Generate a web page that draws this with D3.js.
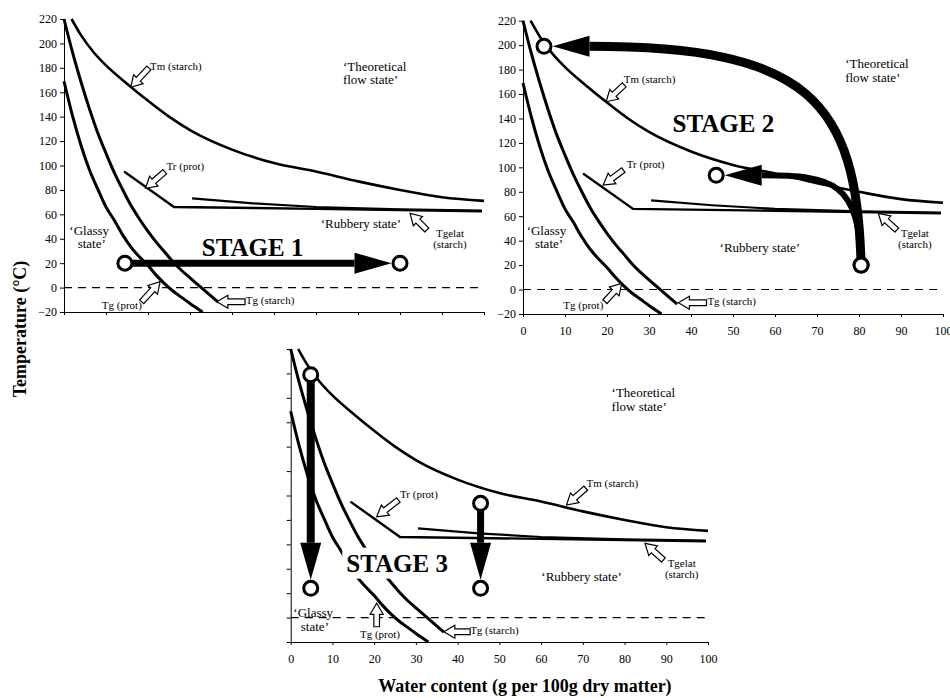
<!DOCTYPE html>
<html>
<head>
<meta charset="utf-8">
<script src="https://cdn.jsdelivr.net/npm/d3@7"></script>
<style>
body { margin: 0; background: #fff; }
svg { display: block; font-family: 'Liberation Serif', 'Times New Roman', serif; }
.axis path, .axis line { stroke: #000; stroke-width: 1; }
.axis text { font-size: 12px; fill: #000; font-family: 'Liberation Serif', serif; }
.small { font-size: 11px; }
.region { font-size: 13px; }
.stage { font-size: 25px; font-weight: bold; }
.title { font-size: 18px; font-weight: bold; }
</style>
</head>
<body>
<svg id="drawing_region" width="950" height="698"></svg>
<script>
// curves as [water content, temperature]
const tmStarch = [[1.8,220],[4,207],[7,193],[10,182],[15,167],[20,153],[25,140],[30,129],[40,113],[50,102],[60,95],[70,87],[80,80],[90,74],[100,71]];
const tgStarch = [[0,220],[2,193],[4,169],[6,147],[8,127],[10,110],[12,94],[14,80],[16,67],[18,56],[20,46],[22,37],[24,29],[26,21],[28,14],[30,8],[32,2],[34,-4],[36.7,-12]];
const tgProt = [[0,169],[2,141],[4,117],[6,97],[8,81],[10,66],[12,55],[14,43],[16,33],[18,25],[20,18],[22,10],[24,3],[26,-3],[28,-8],[30,-13],[33,-20]];
const trProt = [[14.3,95],[26.2,66],[60,64.5],[99.5,62.5]];
const tgelatStarch = [[30.5,73],[45,69],[60,66],[80,64],[99.5,63]];
const zeroLine = [[0,0],[100,0]];

const xTicks = [0,10,20,30,40,50,60,70,80,90,100];
const yTicks = [-20,0,20,40,60,80,100,120,140,160,180,200,220];

// text labels per panel (data coords of baseline)
const labels1 = [
  {t:'Tm (starch)', x:20.5, y:178.2, a:'start', c:'small'},
  {t:'Tr (prot)', x:24.4, y:96.3, a:'start', c:'small'},
  {t:'Tgelat', x:91.9, y:41.4, a:'middle', c:'small'},
  {t:'(starch)', x:91.9, y:32.4, a:'middle', c:'small'},
  {t:'‘Rubbery state’', x:70.7, y:48.5, a:'middle', c:'region'},
  {t:'‘Theoretical', x:66.4, y:177.4, a:'start', c:'region'},
  {t:'flow state’', x:66.4, y:166.5, a:'start', c:'region'},
  {t:'‘Glassy', x:6, y:43.1, a:'middle', c:'region'},
  {t:'state’', x:6.6, y:32.2, a:'middle', c:'region'},
  {t:'Tg (prot)', x:9.0, y:-17.8, a:'start', c:'small'},
  {t:'Tg (starch)', x:43.3, y:-13.5, a:'start', c:'small'},
  {t:'STAGE 1', x:44.9, y:25.8, a:'middle', c:'stage'}
];
const labels2 = [
  {t:'Tm (starch)', x:24.0, y:168.8, a:'start', c:'small'},
  {t:'Tr (prot)', x:24.7, y:99.2, a:'start', c:'small'},
  {t:'Tgelat', x:93.3, y:42.8, a:'middle', c:'small'},
  {t:'(starch)', x:93.3, y:33.8, a:'middle', c:'small'},
  {t:'‘Rubbery state’', x:56.4, y:31, a:'middle', c:'region'},
  {t:'‘Theoretical', x:76.7, y:181, a:'start', c:'region'},
  {t:'flow state’', x:76.7, y:170.1, a:'start', c:'region'},
  {t:'‘Glassy', x:5.6, y:44.6, a:'middle', c:'region'},
  {t:'state’', x:6.2, y:33.8, a:'middle', c:'region'},
  {t:'Tg (prot)', x:9.6, y:-16.2, a:'start', c:'small'},
  {t:'Tg (starch)', x:43.9, y:-12.7, a:'start', c:'small'},
  {t:'STAGE 2', x:47.7, y:129.2, a:'middle', c:'stage'}
];
const labels3 = [
  {t:'Tm (starch)', x:70.9, y:107.2, a:'start', c:'small'},
  {t:'Tr (prot)', x:26.2, y:97.7, a:'start', c:'small'},
  {t:'Tgelat', x:93.7, y:41.2, a:'middle', c:'small'},
  {t:'(starch)', x:93.7, y:32.2, a:'middle', c:'small'},
  {t:'‘Rubbery state’', x:69.7, y:30.2, a:'middle', c:'region'},
  {t:'‘Theoretical', x:76.9, y:180.9, a:'start', c:'region'},
  {t:'flow state’', x:76.9, y:169.2, a:'start', c:'region'},
  {t:'‘Glassy', x:5.4, y:0.6, a:'middle', c:'region'},
  {t:'state’', x:5.8, y:-10.6, a:'middle', c:'region'},
  {t:'Tg (prot)', x:16.6, y:-17, a:'start', c:'small'},
  {t:'Tg (starch)', x:43, y:-13.5, a:'start', c:'small'},
  {t:'STAGE 3', x:25.5, y:37.6, a:'middle', c:'stage', mask:true}
];

// hollow pointer arrows
const pointers1 = [
  {tip:[15.9,164.1], tail:[20.2,179.9]},
  {tip:[19.4,81.3], tail:[24.0,94.9]},
  {tip:[82.4,60.8], tail:[86.4,47.2]},
  {tip:[22.9,4.8], tail:[18.5,-11.6]},
  {tip:[36.4,-11.6], tail:[43.1,-11.6]}
];
const pointers2 = [
  {tip:[19.8,153.7], tail:[24.1,167.5]},
  {tip:[19.1,85.5], tail:[23.9,97.8]},
  {tip:[84.6,62.4], tail:[89,48.7]},
  {tip:[23.5,5.1], tail:[19.5,-9.9]},
  {tip:[37,-10.8], tail:[43.7,-10.8]}
];
const pointers3 = [
  {tip:[66.1,92.2], tail:[70.7,106]},
  {tip:[20.6,82.6], tail:[25.8,96.3]},
  {tip:[84.9,60.8], tail:[89.3,47.2]},
  {tip:[20.6,11.7], tail:[20.6,-7.5]},
  {tip:[36.7,-11.6], tail:[43,-11.6]}
];

// process arrows (start, bezier controls, end circle)
const stage1Arrows = [
  {from:[14.5,20], c1:[14.5,20], c2:[14.5,20], to:[80,20]}
];
const stage2Arrows = [
  {from:[80.5,20], c1:[79.5,155], c2:[68,199], to:[5,199]},
  {from:[80.5,20], c1:[80,88], c2:[74,93.5], to:[46,93.5]}
];
const stage3Arrows = [
  {from:[4.8,199], c1:[4.8,199], c2:[4.8,199], to:[4.8,24]},
  {from:[45.5,93.6], c1:[45.5,93.6], c2:[45.5,93.6], to:[45.5,24]}
];

const panels = [
  {px:[64,484], py:[312,19], xLab:false, yLab:true, labels:labels1, pointers:pointers1, arrows:stage1Arrows, widths:[7]},
  {px:[523,943], py:[314,20.7], xLab:true, yLab:true, labels:labels2, pointers:pointers2, arrows:stage2Arrows, widths:[9,6]},
  {px:[290.7,708], py:[642,349], xLab:true, yLab:false, labels:labels3, pointers:pointers3, arrows:stage3Arrows, widths:[8,7]}
];

const svg = d3.select('#drawing_region');
const R = 7, headLen = 37, headHalf = 10.5;

function hollowArrow(g, tail, tip) {
  const dx = tip[0]-tail[0], dy = tip[1]-tail[1], L = Math.hypot(dx, dy);
  const ux = dx/L, uy = dy/L, nx = -uy, ny = ux;
  const hl = 11, hw = 6.5, sw = 2.8;
  const p = (a, b) => [tail[0]+ux*a+nx*b, tail[1]+uy*a+ny*b];
  const pts = [p(0,-sw), p(L-hl,-sw), p(L-hl,-hw), p(L,0), p(L-hl,hw), p(L-hl,sw), p(0,sw)];
  g.append('polygon')
    .attr('points', pts.map(q => q.join(',')).join(' '))
    .attr('fill', '#fff').attr('stroke', '#000').attr('stroke-width', 1.2);
}

function stageArrow(g, x, y, a, w) {
  const P = [a.from, a.c1, a.c2, a.to].map(d => [x(d[0]), y(d[1])]);
  const dx = P[3][0]-P[2][0], dy = P[3][1]-P[2][1], L = Math.hypot(dx, dy);
  const ux = dx/L, uy = dy/L;
  const tip = [P[3][0]-ux*(R+1.5), P[3][1]-uy*(R+1.5)];
  const base = [tip[0]-ux*headLen, tip[1]-uy*headLen];
  const path = d3.path();
  path.moveTo(P[0][0], P[0][1]);
  path.bezierCurveTo(P[1][0], P[1][1], P[2][0], P[2][1], base[0], base[1]);
  g.append('path').attr('d', path.toString())
    .attr('fill', 'none').attr('stroke', '#000').attr('stroke-width', w);
  g.append('polygon')
    .attr('points', [tip, [base[0]-uy*headHalf, base[1]+ux*headHalf], [base[0]+uy*headHalf, base[1]-ux*headHalf]].map(q => q.join(',')).join(' '))
    .attr('fill', '#000');
}

panels.forEach(p => {
  const x = d3.scaleLinear().domain([0, 100]).range(p.px);
  const y = d3.scaleLinear().domain([-20, 220]).range(p.py);
  const g = svg.append('g');

  const xAxis = d3.axisBottom(x).tickValues(xTicks).tickSize(3).tickPadding(9).tickSizeOuter(0);
  if (!p.xLab) xAxis.tickFormat('');
  const yAxis = d3.axisLeft(y).tickValues(yTicks).tickSize(4).tickPadding(3).tickSizeOuter(0);
  if (!p.yLab) yAxis.tickFormat('');

  g.append('g').attr('class', 'axis').attr('transform', `translate(0,${y(-20)})`).call(xAxis);
  g.append('g').attr('class', 'axis').attr('transform', `translate(${x(0)},0)`).call(yAxis);

  const line = d3.line().x(d => x(d[0])).y(d => y(d[1]));
  const smooth = d3.line().x(d => x(d[0])).y(d => y(d[1])).curve(d3.curveMonotoneX);

  g.append('path').attr('d', line(zeroLine))
    .attr('stroke', '#000').attr('stroke-width', 1.1).attr('stroke-dasharray', '8,6').attr('fill', 'none');

  [[tmStarch, 2.6], [tgStarch, 3], [tgProt, 3]].forEach(([d, w]) => {
    g.append('path').attr('d', smooth(d)).attr('fill', 'none').attr('stroke', '#000').attr('stroke-width', w);
  });
  [[trProt, 2.4], [tgelatStarch, 2.2]].forEach(([d, w]) => {
    g.append('path').attr('d', line(d)).attr('fill', 'none').attr('stroke', '#000').attr('stroke-width', w);
  });

  p.pointers.forEach(d => hollowArrow(g, [x(d.tail[0]), y(d.tail[1])], [x(d.tip[0]), y(d.tip[1])]));

  p.arrows.forEach((a, i) => stageArrow(g, x, y, a, p.widths[i]));

  p.arrows.forEach(a => {
    [a.from, a.to].forEach(c => {
      g.append('circle').attr('cx', x(c[0])).attr('cy', y(c[1])).attr('r', R)
        .attr('fill', '#fff').attr('stroke', '#000').attr('stroke-width', 3);
    });
  });

  p.labels.forEach(d => {
    const t = g.append('text')
      .attr('class', d.c)
      .attr('x', x(d.x)).attr('y', y(d.y))
      .attr('text-anchor', d.a)
      .text(d.t);
    if (d.mask) {
      const b = t.node().getBBox();
      g.insert('rect', () => t.node())
        .attr('x', b.x - 4).attr('y', b.y - 2)
        .attr('width', b.width + 8).attr('height', b.height + 4)
        .attr('fill', '#fff');
    }
  });
});

svg.append('text').attr('class', 'title')
  .attr('transform', 'translate(26,329) rotate(-90)')
  .attr('text-anchor', 'middle')
  .text('Temperature (°C)');

svg.append('text').attr('class', 'title')
  .attr('x', 525).attr('y', 692)
  .attr('text-anchor', 'middle')
  .text('Water content (g per 100g dry matter)');
</script>
</body>
</html>
